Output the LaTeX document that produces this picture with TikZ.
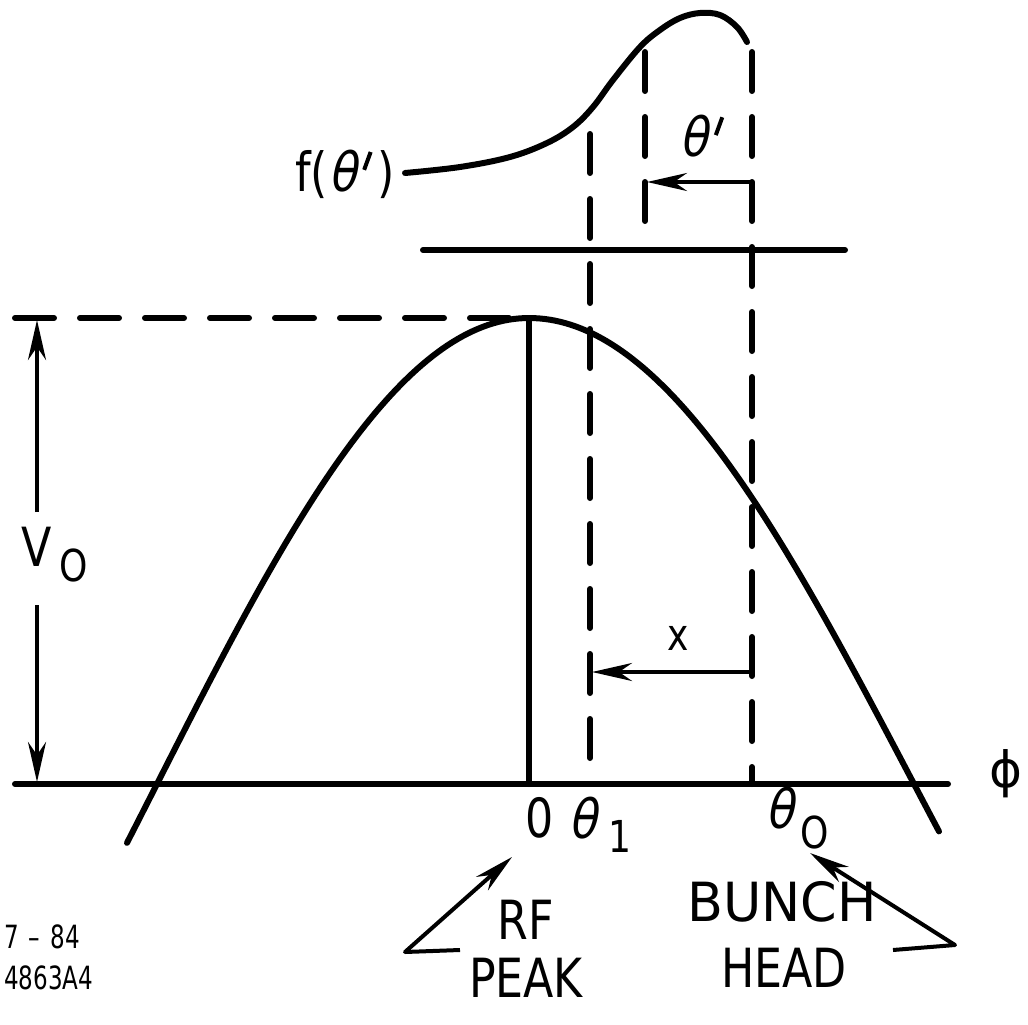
\documentclass[tikz,border=0pt]{standalone}
\usepackage{fontspec}
\setmainfont{DejaVu Sans}
\newfontfamily\capfont[FakeStretch=0.82]{DejaVu Sans}
\newfontfamily\widefont[FakeStretch=0.97]{DejaVu Sans}
\newfontfamily\smallfont[FakeStretch=0.72]{DejaVu Sans}
\newfontfamily\grkfont[FakeSlant=0.2,FakeStretch=0.85]{DejaVu Sans}
\newcommand{\myprime}{\kern6pt\raisebox{22pt}{\rotatebox{-20}{\rule{4pt}{19pt}}}}
\usetikzlibrary{arrows.meta}
\begin{document}
\begin{tikzpicture}[x=1pt,y=-1pt,
  thickline/.style={line width=6pt, line cap=round, line join=round},
  dashline/.style={line width=6pt, line cap=round, dash pattern=on 39pt off 26pt},
  ptr/.style={line width=4pt, line join=round, -{Stealth[length=40pt,width=18pt]}},
  captext/.style={inner sep=0pt, font=\capfont\fontsize{54}{56}\selectfont},
  subtext/.style={inner sep=0pt, font=\capfont\fontsize{44}{46}\selectfont},
  smalltext/.style={inner sep=0pt, anchor=west, font=\smallfont\fontsize{32}{34}\selectfont},
  grktext/.style={inner sep=0pt, font=\grkfont\fontsize{54}{56}\selectfont},
]
\useasboundingbox (0,0) rectangle (1028,1025);

% axis
\coordinate (axL) at (15,784);
\coordinate (axR) at (948,784);
\draw[thickline] (axL) -- (axR);
\node[inner sep=0pt, font=\fontsize{50}{52}\selectfont] (phi) at (1006,774) {ϕ};

% peak reference
\coordinate (dL) at (15,318);
\coordinate (pk) at (529,318);
\coordinate (pk0) at (529,784);
\draw[dashline] (dL) -- (pk);
\draw[thickline] (pk) -- (pk0);

% RF wave
\draw[thickline] plot[domain=-402:0, samples=80] ({529+\x},{784-466*cos((\x/372)*90)})
  -- plot[domain=0:410, samples=80] ({529+\x},{784-466*cos((\x/385)*90)});

% V0 dimension
\coordinate (vtop) at (37,320);
\coordinate (vbot) at (37,782);
\coordinate (vgapT) at (37,512);
\coordinate (vgapB) at (37,605);
\draw[ptr] (vgapT) -- (vtop);
\draw[ptr] (vgapB) -- (vbot);
\node[captext] (vlab) at (37,547) {V};
\node[subtext] (vsub) at (74,565) {O};

% horizontal line under bunch
\coordinate (hL) at (423,250);
\coordinate (hR) at (845,250);
\draw[thickline] (hL) -- (hR);

% dashed verticals
\coordinate (t1top) at (590,134);
\coordinate (t1bot) at (590,784);
\coordinate (t0top) at (752,52);
\coordinate (t0bot) at (752,784);
\coordinate (tptop) at (645,52);
\coordinate (tpbot) at (645,240);
\draw[dashline] (t1top) -- (t1bot);
\draw[dashline] (t0top) -- (t0bot);
\draw[dashline] (tptop) -- (tpbot);

% bunch distribution
\draw[thickline] plot[smooth, tension=0.6] coordinates {(405,173) (460,167) (510,157) (547,143) (573,127) (593,107) (613,80) (640,47) (660,30) (680,18) (700,13) (720,15) (737,27) (747,42)};
\node[captext, anchor=east] (flab) at (395,174) {f({\grkfont θ}\myprime\kern5pt)};

% theta' arrow
\coordinate (tpa) at (752,182);
\coordinate (tpb) at (647,182);
\draw[ptr] (tpa) -- (tpb);
\node[grktext] (tplab) at (702,136) {θ\myprime};

% x arrow
\coordinate (xa) at (750,672);
\coordinate (xb) at (592,672);
\draw[ptr] (xa) -- (xb);
\node[inner sep=0pt, font=\capfont\fontsize{44}{46}\selectfont] (xlab) at (678,638) {x};

% axis labels
\node[captext] (zero) at (540,818) {0};
\node[grktext] (th1) at (583,818) {θ};
\node[subtext] (th1s) at (620,836) {1};
\node[grktext] (th0) at (780,808) {θ};
\node[subtext] (th0s) at (815,832) {O};

% pointers
\node[captext] (rf) at (526,920) {RF};
\node[captext] (peak) at (526,978) {PEAK};
\node[inner sep=0pt, font=\widefont\fontsize{54}{56}\selectfont] (bunch) at (782,902) {BUNCH};
\node[captext] (head) at (784,968) {HEAD};
\coordinate (rfa) at (460,950);
\coordinate (rfb) at (405,952);
\coordinate (rfc) at (512,857);
\draw[ptr] (rfa) -- (rfb) -- (rfc);
\coordinate (bha) at (893,950);
\coordinate (bhb) at (955,945);
\coordinate (bhc) at (810,853);
\draw[ptr] (bha) -- (bhb) -- (bhc);

% figure id
\node[smalltext] (id1) at (4,937) {7\kern10pt–\kern10pt84};
\node[smalltext] (id2) at (4,978) {4863A4};
\end{tikzpicture}
\end{document}
